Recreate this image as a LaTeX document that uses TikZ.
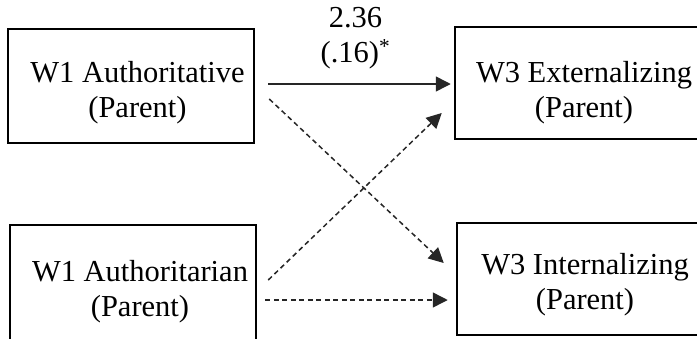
\documentclass[tikz,border=0pt]{standalone}
\usepackage{fontspec}
\setmainfont{Liberation Serif}
\usetikzlibrary{arrows.meta}
\begin{document}
\begin{tikzpicture}[x=1pt,y=-1pt,
  box/.style={draw=black, line width=2.5pt, minimum width=246pt,
    minimum height=114pt, inner sep=0pt},
  boxtext/.style={align=center, inner sep=0pt,
    font=\fontsize{30.5}{35}\selectfont},
  link/.style={line width=1.5pt, draw=black!85,
    -{Triangle[length=15pt,width=15pt]}},
  dlink/.style={link, dash pattern=on 5pt off 3.5pt}
]
\useasboundingbox (0,0) rectangle (697,338);
\clip (0,0) rectangle (697,338);

% predictors (wave 1)
\node[box, label={[boxtext, xshift=6.5pt, yshift=-6.8pt]center:W1 Authoritative\\(Parent)}]
  (auth) at (131,86) {};
\node[box, minimum height=118pt,
  label={[boxtext, xshift=7pt, yshift=-7.5pt]center:W1 Authoritarian\\(Parent)}]
  (autn) at (133,284) {};

% outcomes (wave 3)
\node[box, minimum height=112pt,
  label={[boxtext, xshift=6pt, yshift=-9.8pt]center:W3 Externalizing\\(Parent)}]
  (ext) at (578,83) {};
\node[box, minimum height=112pt,
  label={[boxtext, xshift=5pt, yshift=-5.8pt]center:W3 Internalizing\\(Parent)}]
  (int) at (580,279) {};

% paths
\draw[link, shorten >=3pt] ([shift={(13,-2)}]auth.east) -- ([shift={(0,-2)}]auth.east -| ext.west);
\draw[dlink] ([shift={(14,13)}]auth.east) -- ([shift={(-12,-16)}]int.west);
\draw[dlink] ([shift={(11,-4)}]autn.east) -- ([shift={(-12,30)}]ext.west);
\draw[dlink] ([shift={(8,16)}]autn.east) -- ([shift={(-8,21)}]int.west);

% coefficient of the significant path
\node[boxtext] (coef) at (355.5,37.9) {2.36\\(.16)\textsuperscript{*}};
\end{tikzpicture}
\end{document}
